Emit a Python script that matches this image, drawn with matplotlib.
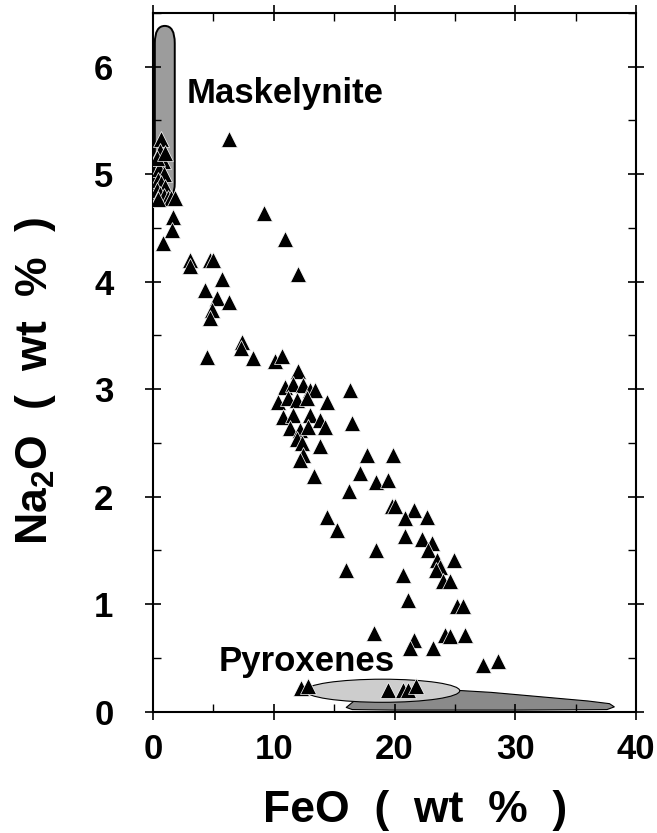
import matplotlib
matplotlib.use("Agg")
import matplotlib.pyplot as plt
from matplotlib.patches import FancyBboxPatch, Ellipse, Polygon
from matplotlib.ticker import MultipleLocator

plt.rcParams['font.family'] = ['Liberation Sans', 'DejaVu Sans']
plt.rcParams['font.weight'] = 'bold'
plt.rcParams['mathtext.fontset'] = 'custom'
plt.rcParams['mathtext.rm'] = 'Liberation Sans:bold'
plt.rcParams['mathtext.bf'] = 'Liberation Sans:bold'
plt.rcParams['mathtext.default'] = 'rm'

# ---- data: FeO vs Na2O (wt %) ----
feo = [
    # maskelynite cluster
    0.7, 0.6, 0.8, 0.5, 0.9, 0.4, 0.7, 1.0, 0.3, 0.6, 0.9, 1.2, 1.5, 0.4, 1.8, 0.3, 1.0,
    1.68, 1.55, 0.8, 6.3, 9.2, 10.9, 12.0,
    # intermediate group
    3.06, 3.06, 4.7, 5.0, 5.7, 4.3, 5.3, 6.3, 4.86, 4.7, 4.5, 7.4, 7.3, 8.26, 10.1, 10.66, 12.0,
    # central cluster
    10.93, 11.62, 12.45, 13.0, 13.4, 10.38, 11.2, 11.9, 12.73, 14.4, 10.8, 11.6, 13.0, 13.83,
    14.24, 11.35, 12.17, 12.86, 11.9, 12.3, 13.83, 12.45, 12.17, 16.3, 16.5, 17.75, 13.3, 17.1,
    # lower trend
    19.9, 18.5, 19.5, 16.2, 19.8, 20.0, 21.6, 20.9, 22.7, 14.4, 15.2, 20.9, 22.25, 23.1, 22.75,
    18.5, 23.5, 23.8, 24.9, 23.4, 16.0, 20.7,
    24.05, 24.6, 21.1, 25.15, 25.7, 18.3, 21.6, 21.3, 23.2, 24.2, 24.6, 25.8, 27.3, 28.6,
    12.25, 12.8, 19.5, 20.7, 21.1, 21.8,
]
na2o = [
    5.33, 5.22, 5.12, 5.05, 5.00, 4.95, 4.92, 4.88, 4.85, 4.82, 4.80, 4.78, 4.78, 4.77, 4.78, 5.15, 5.20,
    4.60, 4.48, 4.36, 5.33, 4.64, 4.40, 4.07,
    4.20, 4.15, 4.20, 4.20, 4.03, 3.92, 3.85, 3.81, 3.74, 3.66, 3.30, 3.44, 3.38, 3.29, 3.26, 3.31, 3.17,
    3.02, 3.05, 3.04, 2.99, 2.99, 2.88, 2.92, 2.90, 2.92, 2.88, 2.74, 2.76, 2.76, 2.71,
    2.65, 2.64, 2.62, 2.65, 2.54, 2.50, 2.47, 2.39, 2.34, 2.99, 2.69, 2.39, 2.19, 2.22,
    2.39, 2.14, 2.16, 2.05, 1.91, 1.91, 1.88, 1.80, 1.81, 1.81, 1.69, 1.63, 1.61, 1.57, 1.50,
    1.50, 1.41, 1.35, 1.41, 1.32, 1.32, 1.27,
    1.22, 1.22, 1.04, 0.98, 0.98, 0.73, 0.67, 0.59, 0.59, 0.71, 0.70, 0.71, 0.43, 0.47,
    0.22, 0.24, 0.20, 0.20, 0.20, 0.24,
]

# field outlines
mask_feo_range = [0.15, 1.8]
mask_na_range = [4.76, 6.38]
pyx_light_center = [19.0, 0.195]
pyx_light_size = [12.8, 0.215]
pyx_dark_feo = [16.0, 16.6, 20.0, 25.0, 28.0, 32.0, 36.0, 37.8, 38.2, 37.6, 30.0, 20.0, 16.5]
pyx_dark_na = [0.04, 0.095, 0.14, 0.20, 0.18, 0.14, 0.10, 0.075, 0.045, 0.02, 0.015, 0.015, 0.02]

fig = plt.figure(figsize=(6.57, 8.33), dpi=100)
ax = fig.add_axes([0.2329, 0.1456, 0.7352, 0.8388])

# Maskelynite field (pill shape)
w = mask_feo_range[1] - mask_feo_range[0]
h = mask_na_range[1] - mask_na_range[0]
r = w / 2
mask = FancyBboxPatch((mask_feo_range[0], mask_na_range[0]), w, h,
                      boxstyle=f"round,pad=0,rounding_size={r}",
                      mutation_aspect=0.16 / r,
                      facecolor='#9c9c9c', edgecolor='black', linewidth=1.4, zorder=1)
ax.add_patch(mask)

# Pyroxene fields
dark = Polygon(list(zip(pyx_dark_feo, pyx_dark_na)), closed=True,
               facecolor='#8a8a8a', edgecolor='black', linewidth=0.8,
               joinstyle='round', zorder=1)
ax.add_patch(dark)
light = Ellipse(pyx_light_center, pyx_light_size[0], pyx_light_size[1],
                facecolor='#cdcdcd', edgecolor='black', linewidth=0.8, zorder=2)
ax.add_patch(light)

ax.plot(feo, na2o, linestyle='none', marker='^', markersize=11,
        markerfacecolor='black', markeredgecolor='white', markeredgewidth=0.5, zorder=3)

ax.text(2.8, 5.66, 'Maskelynite', fontsize=25, fontweight='bold', ha='left', va='baseline')
ax.text(5.4, 0.38, 'Pyroxenes', fontsize=25, fontweight='bold', ha='left', va='baseline')

ax.set_xlim(0, 40)
ax.set_ylim(0, 6.5)
ax.xaxis.set_major_locator(MultipleLocator(10))
ax.xaxis.set_minor_locator(MultipleLocator(5))
ax.yaxis.set_major_locator(MultipleLocator(1))
ax.yaxis.set_minor_locator(MultipleLocator(0.5))

for s in ax.spines.values():
    s.set_linewidth(1.5)

ax.tick_params(which='both', top=True, right=True, labeltop=False, labelright=False)
ax.tick_params(which='major', direction='inout', length=11, width=1.2, labelsize=25)
ax.tick_params(which='minor', direction='in', length=5.5, width=1.0)
ax.tick_params(axis='x', which='major', pad=10)
ax.tick_params(axis='y', which='major', pad=23)
for lab in ax.get_xticklabels() + ax.get_yticklabels():
    lab.set_fontweight('bold')

fig.text(415 / 657, 1 - 822 / 833, 'FeO  (  wt  %  )', fontsize=32, fontweight='bold',
         ha='center', va='baseline')
fig.text(47 / 657, 1 - 381 / 833, r'Na$_{2}$O  (  wt  %  )', fontsize=32, fontweight='bold',
         ha='center', va='baseline', rotation=90, rotation_mode='anchor')

fig.savefig('out.png', dpi=100)
